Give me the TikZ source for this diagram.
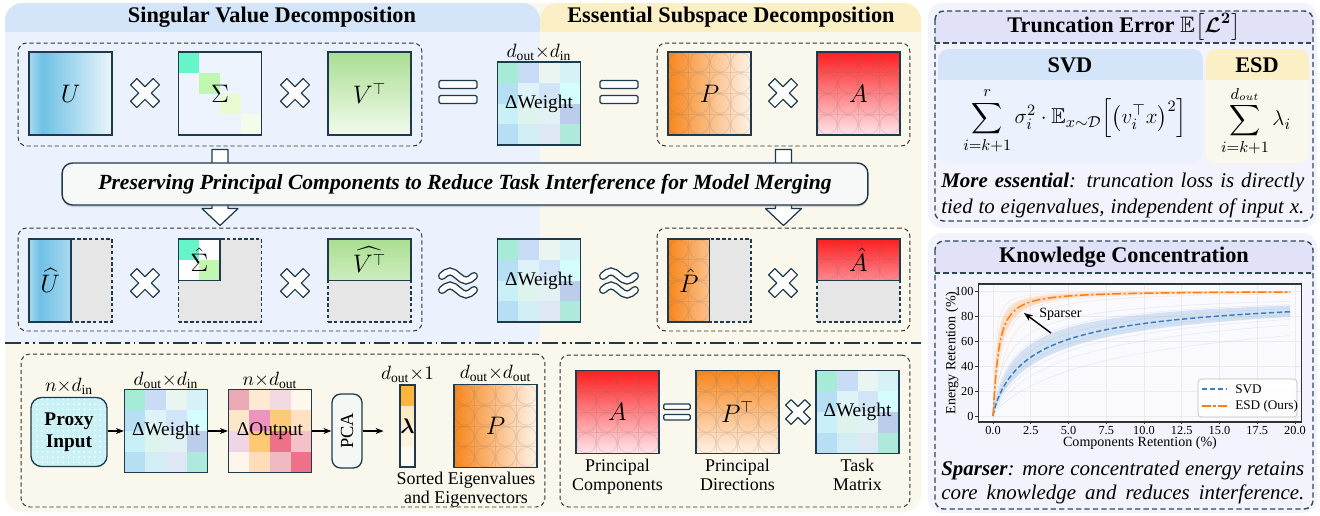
\documentclass[tikz,border=0pt]{standalone}
\usepackage{amsmath,amssymb,bm}
\usepackage{fontspec}
\setmainfont{Liberation Serif}
\usetikzlibrary{calc,positioning,patterns,arrows.meta,shadows}

\definecolor{frameC}{HTML}{1E3B4D}
\definecolor{dashC}{HTML}{2F4858}
\definecolor{blueHead}{HTML}{D4E4F9}
\definecolor{blueBody}{HTML}{ECF2FD}
\definecolor{creamHead}{HTML}{FBEFC6}
\definecolor{creamBody}{HTML}{FAF7EC}
\definecolor{lavPanel}{HTML}{F3F3FD}
\definecolor{lavHead}{HTML}{E1E1F8}
\definecolor{ghostC}{HTML}{E6E6E6}
\definecolor{uL}{HTML}{A9D9EF}
\definecolor{uM}{HTML}{6FC1E5}
\definecolor{uR}{HTML}{EAF5FB}
\definecolor{vTop}{HTML}{A9DE91}
\definecolor{vMid}{HTML}{CDEDBE}
\definecolor{vBot}{HTML}{F3FAEE}
\definecolor{pDark}{HTML}{F7861C}
\definecolor{pMid}{HTML}{FDC28E}
\definecolor{pLight}{HTML}{FFF3E8}
\definecolor{aDark}{HTML}{FF1E1E}
\definecolor{aMid}{HTML}{FF8A92}
\definecolor{aLight}{HTML}{FFE6EC}
\definecolor{proxyC}{HTML}{C9F1F6}
\definecolor{pcaC}{HTML}{F4F8F5}
\definecolor{bannerC}{HTML}{F6F9F7}
\definecolor{svdLine}{HTML}{3A7EC2}
\definecolor{esdLine}{HTML}{FF7F0E}

\pgfdeclarehorizontalshading{uShade}{100bp}{color(0bp)=(uL); color(25bp)=(uL); color(33bp)=(uM); color(75bp)=(uR); color(100bp)=(uR)}
\pgfdeclarehorizontalshading{uHalf}{100bp}{color(0bp)=(uL); color(25bp)=(uL); color(38bp)=(uM); color(75bp)=(uL); color(100bp)=(uL)}

\begin{document}
\begin{tikzpicture}[x=0.02cm, y=-0.02cm,
	mat/.style={draw=frameC, line width=.75pt, minimum size=1.66cm, inner sep=0pt, font=\fontsize{13.5}{15}\selectfont},
	ghost/.style={mat, fill=ghostC, dash pattern=on 2pt off 1.3pt},
	weight/.style={mat, cells={4}{\dwcells}, font=\fontsize{11}{13}\selectfont},
	cells/.style 2 args={path picture={
		\foreach \c [count=\k from 0] in #2 {
			\pgfmathtruncatemacro\gr{\k/#1}
			\pgfmathtruncatemacro\gc{\k-#1*\gr}
			\definecolor{cellC}{HTML}{\c}
			\fill[cellC] ($(path picture bounding box.north west)+(\gc*\cellsz,\gr*\cellsz)$) rectangle ++(\cellsz,\cellsz);
		}}},
	bubbles/.style={path picture={
		\foreach \i in {0,...,3}
			\foreach \j in {0,...,3}
				\draw[black!60, draw opacity=.18, line width=.45pt] ($(path picture bounding box.north west)+({(\i+.5)*\cellsz},{(\j+.5)*\cellsz})$) circle [radius=9.6];
		\foreach \i in {1,2,3} {
			\draw[black!60, draw opacity=.14, line width=.45pt] ($(path picture bounding box.north west)+(\i*\cellsz,0)$) -- ++(0,83);
			\draw[black!60, draw opacity=.14, line width=.45pt] ($(path picture bounding box.north west)+(0,\i*\cellsz)$) -- ++(83,0);
		}}},
	dashbox/.style={draw=black!80, dash pattern=on 2.4pt off 1.6pt, line width=.55pt, rounded corners=5pt, inner sep=0pt},
	paneldash/.style={draw=dashC, dash pattern=on 3pt off 1.8pt, line width=.8pt},
	opline/.style={draw=frameC, fill=white, line width=.7pt},
	title/.style={font=\fontsize{12.7}{15}\selectfont\bfseries, inner sep=0pt},
	lbl/.style={font=\fontsize{11}{13}\selectfont, inner sep=0pt},
	undercap/.style={font=\fontsize{10.2}{11}\selectfont, align=center, inner sep=0pt},
	note/.style={font=\fontsize{11.9}{13}\selectfont\itshape, inner sep=0pt, anchor=west},
	ticklbl/.style={font=\fontsize{7}{8}\selectfont, inner sep=1pt},
	arr/.style={-{Stealth[length=4.5pt,width=3.4pt]}, line width=.6pt},
	xsmp/.style={samples at={0.02,0.1,0.2,...,1,1.25,1.5,...,4,4.5,5,...,19.5,19.7}},
	xsmpr/.style={samples at={19.7,19.5,19,...,4,3.75,3.5,...,1,0.9,0.8,...,0.1,0.02}},
	crossop/.pic={\path[opline, rotate=45, line join=round] (4.5,4.5) -- (4.5,16) -- (-4.5,16) -- (-4.5,4.5) -- (-16,4.5) -- (-16,-4.5) -- (-4.5,-4.5) -- (-4.5,-16) -- (4.5,-16) -- (4.5,-4.5) -- (16,-4.5) -- (16,4.5) -- cycle;},
	eqop/.pic={\path[opline, rounded corners=.8pt] (-19,-11.5) rectangle (19,-3.5) (-19,3.5) rectangle (19,11.5);},
	approxop/.pic={\foreach \yy in {-7,7} {
			\draw[frameC, line width=4.6pt, line cap=round] (-16,\yy) sin (-8,\yy-4.5) cos (0,\yy) sin (8,\yy+4.5) cos (16,\yy);
			\draw[white, line width=3pt, line cap=round] (-16,\yy) sin (-8,\yy-4.5) cos (0,\yy) sin (8,\yy+4.5) cos (16,\yy);
		}}
	]
	%
	\def\cellsz{20.75}
	\def\dwcells{A6EBD6,C8DDF5,E8F5F1,D7F2F7,B6DFF4,DDF3F7,D2E4F7,D3FDFF,C9F0F6,DEF3EE,E2F2F4,BBCDEA,B6DFF3,D2EEF4,DEE8F5,AFE9DC}
	\def\outcells{EBA8B5,FEE9D2,F1D9E2,FEF7EC,FEE6CA,EE92BE,FFC97A,FFE1C2,EFD5E5,FFC872,EE7189,F5C1C9,FEF5EB,FEDDB9,F1B9C1,EE7189}
	\def\sigcells{66F5C9,EEF4FD,EEF4FD,EEF4FD,EEF4FD,C2F7B2,EEF4FD,EEF4FD,EEF4FD,EEF4FD,E9FBD2,EEF4FD,EEF4FD,EEF4FD,EEF4FD,F3FBEA}
	\def\sighcells{66F5C9,FFFFFF,FFFFFF,C2F7B2}
	%
	\useasboundingbox (0,0) rectangle (1320,515);
	\fill[white] (0,0) rectangle (1320,515);
	% backgrounds of the left part
	\fill[creamBody, rounded corners=10] (5,3) rectangle (921,512);
	\fill[blueBody, rounded corners=10] (5,3) rectangle (540,370);
	\fill[creamBody] (5,343) rectangle (921,375);
	\fill[blueHead, rounded corners=10] (5,3) rectangle (540,45);
	\fill[blueBody] (5,32) rectangle (540,50);
	\fill[creamHead, rounded corners=10] (540,3) rectangle (921,45);
	\fill[creamBody] (540,32) rectangle (921,50);
	\node[title] (svdTitle) at (272,17) {Singular Value Decomposition};
	\node[title] (esdTitle) at (731,17) {Essential Subspace Decomposition};
	%
	% groups
	\node[dashbox, minimum width=8.08cm, minimum height=2.06cm] (svdTop) at (220,94.5) {};
	\node[dashbox, minimum width=5.06cm, minimum height=2.06cm] (esdTop) at (783.5,94.5) {};
	\node[dashbox, minimum width=8.08cm, minimum height=2.06cm] (svdLow) at (220,279.5) {};
	\node[dashbox, minimum width=5.06cm, minimum height=2.06cm] (esdLow) at (783.5,279.5) {};
	\node[dashbox, minimum width=10.48cm, minimum height=3.06cm] (procBox) at (283,430.5) {};
	\node[dashbox, minimum width=7cm, minimum height=3.04cm] (pcBox) at (735,431) {};
	%
	% full decompositions
	\node[mat, shading=uShade] (U) at (70.5,93.5) {$U$};
	\node[mat, cells={4}{\sigcells}] (S) at (220,93.5) {$\Sigma$};
	\node[mat, top color=vTop, bottom color=vBot] (Vt) at (369.5,93.5) {$V^{\top}$};
	\node[weight] (dwTop) at (539,103.5) {ΔWeight};
	\node[lbl, above=0pt of dwTop] (dimTop) {$d_{\mathrm{out}}{\times}d_{\mathrm{in}}$};
	\node[mat, left color=pDark, right color=pLight, bubbles] (P) at (709.5,93.5) {$P$};
	\node[mat, top color=aDark, bottom color=aLight, bubbles] (A) at (858.5,93.5) {$A$};
	%
	% block arrows through the banner
	\foreach \t/\b in {svdTop/svdLow,esdTop/esdLow}
		\draw[opline, line join=round] ($(\t.south)+(-8,3)$) -- ($(\b.north)+(-8,-19)$) -- ($(\b.north)+(-18,-19)$) -- ($(\b.north)+(0,-2)$) -- ($(\b.north)+(18,-19)$) -- ($(\b.north)+(8,-19)$) -- ($(\t.south)+(8,3)$) -- cycle;
	\node[draw=frameC, fill=bannerC, line width=.8pt, rounded corners=6pt, minimum width=16.12cm, minimum height=.84cm,
		drop shadow={shadow xshift=0pt, shadow yshift=-1.2pt, opacity=.3}] (banner) at (465,184)
		{\fontsize{12.3}{14}\selectfont\bfseries\itshape Preserving Principal Components to Reduce Task Interference for Model Merging};
	%
	% truncated decompositions
	\node[ghost] (Uh) at (70.5,280.5) {};
	\node[mat, shading=uHalf, minimum width=.84cm, anchor=west] (UhKeep) at (Uh.west) {$\widehat{U}$};
	\node[ghost] (Sh) at (220,280.5) {};
	\node[mat, minimum size=.83cm, anchor=north west, cells={2}{\sighcells}] (ShKeep) at (Sh.north west) {$\hat{\Sigma}$};
	\node[ghost] (Vh) at (369.5,280.5) {};
	\node[mat, minimum height=.83cm, anchor=north, top color=vTop, bottom color=vMid] (VhKeep) at (Vh.north) {$\widehat{V^{\top}}$};
	\node[weight] (dwMid) at (539,280.5) {ΔWeight};
	\node[ghost] (Ph) at (709.5,280.5) {};
	\node[mat, minimum width=.83cm, anchor=west, left color=pDark, right color=pMid, bubbles] (PhKeep) at (Ph.west) {$\hat{P}$};
	\node[ghost] (Ah) at (858.5,280.5) {};
	\node[mat, minimum height=.83cm, anchor=north, top color=aDark, bottom color=aMid, bubbles] (AhKeep) at (Ah.north) {$\hat{A}$};
	%
	% operators
	\foreach \ox/\oy in {145/93,295/93,783/93,145/283,295/283,783/283}
		\pic at (\ox,\oy) {crossop};
	\foreach \ox in {458,619}
		\pic at (\ox,92) {eqop};
	\foreach \ox in {458,619}
		\pic at (\ox,283) {approxop};
	%
	\draw[frameC, line width=1.2pt, dash pattern=on 9pt off 2.2pt on 2.5pt off 2.2pt on 1pt off 2.2pt] (5,343) -- (921,343);
	%
	% how P is obtained
	\node[draw=frameC, line width=.75pt, rounded corners=6pt, minimum width=1.52cm, minimum height=1.38cm, align=center,
		font=\fontsize{11}{12.5}\selectfont\bfseries, preaction={fill=proxyC}, pattern=dots, pattern color=white] (proxy) at (69,432) {Proxy\\Input};
	\node[lbl, above=1pt of proxy] (dimProxy) {$n{\times}d_{\mathrm{in}}$};
	\node[weight] (dwB) at (166,431) {ΔWeight};
	\node[lbl, above=0pt of dwB] (dimB) {$d_{\mathrm{out}}{\times}d_{\mathrm{in}}$};
	\node[mat, cells={4}{\outcells}, font=\fontsize{11}{13}\selectfont] (dOut) at (270,431) {ΔOutput};
	\node[lbl, above=0pt of dOut] (dimOut) {$n{\times}d_{\mathrm{out}}$};
	\node[draw=frameC, fill=pcaC, line width=.75pt, rounded corners=5pt, minimum width=.6cm, minimum height=1.48cm, inner sep=0pt,
		font=\fontsize{10.5}{12}\selectfont] (pca) at (347,431) {\rotatebox{90}{PCA}};
	\node[mat, minimum width=.3cm, minimum height=1.64cm, font=\fontsize{12}{14}\selectfont, path picture={
		\foreach \c [count=\k from 0] in {FDB53A,FFEAC6,FFF2DE,FFFAF1} {
			\definecolor{cellC}{HTML}{\c}
			\fill[cellC] ($(path picture bounding box.north west)+(0,\k*20.5)$) rectangle ++(15,20.5);
		}}] (lam) at (407.5,426) {$\bm{\lambda}$};
	\node[lbl, above=1pt of lam] (dimLam) {$d_{\mathrm{out}}{\times}1$};
	\node[mat, left color=pDark, right color=pLight, bubbles] (Pb) at (495.5,426) {$P$};
	\node[lbl, above=1pt of Pb] (dimPb) {$d_{\mathrm{out}}{\times}d_{\mathrm{out}}$};
	\node[undercap] (sorted) at (466,489.5) {Sorted Eigenvalues\\and Eigenvectors};
	\draw[arr] (dwB.west -| proxy.east) -- (dwB.west);
	\draw[arr] (dwB.east) -- (dOut.west);
	\draw[arr] (dOut.east) -- (pca.west);
	\draw[arr, shorten >=9pt] (pca.east) -- (pca.east -| lam.west);
	%
	% principal components
	\node[mat, top color=aDark, bottom color=aLight, bubbles] (Ab) at (617.5,412) {$A$};
	\node[mat, top color=pDark, bottom color=pLight, bubbles] (Pt) at (737.5,412) {$P^{\top}$};
	\node[weight] (dwTask) at (857.5,412) {ΔWeight};
	\pic[scale=.7] at (677,412) {eqop};
	\pic[scale=.85] at (798,412) {crossop};
	\node[undercap, below=2.5pt of Ab] (capA) {Principal\\Components};
	\node[undercap, below=2.5pt of Pt] (capP) {Principal\\Directions};
	\node[undercap, below=2.5pt of dwTask] (capW) {Task\\Matrix};
	%
	% truncation error panel
	\fill[lavPanel, rounded corners=8] (928,3) rectangle (1317,228);
	\fill[lavHead, rounded corners=5] (935,11) rectangle (1313,55);
	\fill[lavPanel] (935,43) rectangle (1313,60);
	\fill[blueBody, rounded corners=6] (938,49) rectangle (1203,163);
	\fill[blueHead, rounded corners=6] (938,49) rectangle (1203,92);
	\fill[blueBody] (938,80) rectangle (1203,95);
	\fill[creamBody, rounded corners=6] (1206,49) rectangle (1309,163);
	\fill[creamHead, rounded corners=6] (1206,49) rectangle (1309,92);
	\fill[creamBody] (1206,80) rectangle (1309,95);
	\draw[paneldash, rounded corners=5] (935,11) rectangle (1313,221);
	\draw[paneldash] (935,43) -- (1313,43);
	\node[title] (truncTitle) at (1124,27) {Truncation Error $\mathbb{E}\bigl[\bm{\mathcal{L}}^{\bm{2}}\bigr]$};
	\node[title] (svdHead) at (1070,65) {SVD};
	\node[title] (esdHead) at (1257,65) {ESD};
	\node[font=\fontsize{12.3}{14}\selectfont] (svdErr) at (1075,121)
		{$\displaystyle\sum_{i=k+1}^{r}\sigma_i^2\cdot\mathbb{E}_{x\sim\mathcal{D}}\Big[\big(v_i^{\top}x\big)^2\Big]$};
	\node[font=\fontsize{12.3}{14}\selectfont] (esdErr) at (1256,121) {$\displaystyle\sum_{i=k+1}^{d_{out}}\lambda_i$};
	\node[note] (essA) at (941,182) {\makebox[7.26cm][s]{\textbf{More essential}: truncation loss is directly}};
	\node[note] (essB) at (941,208) {\makebox[7.26cm][s]{tied to eigenvalues, independent of input x.}};
	%
	% knowledge concentration panel
	\fill[lavPanel, rounded corners=8] (928,233) rectangle (1317,513);
	\fill[lavHead, rounded corners=5] (935,241) rectangle (1313,285);
	\fill[lavPanel] (935,273) rectangle (1313,290);
	\draw[paneldash, rounded corners=5] (935,241) rectangle (1313,509);
	\draw[paneldash] (935,273) -- (1313,273);
	\node[title] (knowTitle) at (1124,257) {Knowledge Concentration};
	\begin{scope}[shift={(993,416)}, xscale=15.1, yscale=-1.25]
		\fill[white, fill opacity=.5] (-0.99,-4.8) rectangle (20.46,105.6);
		\foreach \gx in {0,2.5,...,20}
			\draw[black!8, line width=.3pt] (\gx,-4.8) -- (\gx,105.6);
		\foreach \gy in {0,20,...,100}
			\draw[black!8, line width=.3pt] (-0.99,\gy) -- (20.46,\gy);
		% single tasks
		\foreach \cc in {1.1,1.5,2.0,2.8,3.6,4.6,6.8}
			\draw[svdLine, draw opacity=.12, line width=.3pt] (0,0) -- plot[xsmp] (\x,{100*\x^0.841/(\x^0.841+\cc)});
		\foreach \cc in {0.1,0.16,0.24,0.34,0.5,0.8}
			\draw[esdLine, draw opacity=.14, line width=.3pt] (0,0) -- plot[xsmp] (\x,{100*\x^1.19/(\x^1.19+\cc)});
		\fill[svdLine!70, fill opacity=.28] (0,0) -- plot[xsmp] (\x,{100*\x^0.841/(\x^0.841+1.6)}) -- plot[xsmpr] (\x,{100*\x^0.841/(\x^0.841+3.2)}) -- cycle;
		\fill[esdLine!70, fill opacity=.3] (0,0) -- plot[xsmp] (\x,{100*\x^1.19/(\x^1.19+0.17)}) -- plot[xsmpr] (\x,{100*\x^1.19/(\x^1.19+0.42)}) -- cycle;
		\draw[svdLine, line width=.85pt, dash pattern=on 3pt off 1.5pt] (0,0) -- plot[xsmp] (\x,{100*\x^0.841/(\x^0.841+2.436)});
		\draw[esdLine, line width=.85pt, dash pattern=on 5pt off 1.5pt on 1.2pt off 1.5pt] (0,0) -- plot[xsmp] (\x,{100*\x^1.19/(\x^1.19+0.282)});
		\draw[black!80, line width=.6pt] (-0.99,-4.8) rectangle (20.46,105.6);
		\foreach \gx/\gl [count=\n] in {0/0.0,2.5/2.5,5/5.0,7.5/7.5,10/10.0,12.5/12.5,15/15.0,17.5/17.5,20/20.0} {
			\draw[black!80, line width=.4pt] (\gx,-4.8) -- (\gx,-6.6);
			\node[ticklbl, anchor=north] (xt\n) at (\gx,-6.4) {\gl};
		}
		\foreach \gy [count=\n] in {0,20,...,100} {
			\draw[black!80, line width=.4pt] (-0.99,\gy) -- (-1.17,\gy);
			\node[ticklbl, anchor=east] (yt\n) at (-1.15,\gy) {\gy};
		}
	\end{scope}
	\node[font=\fontsize{8}{9}\selectfont, inner sep=0pt] (xlab) at (1140,443) {Components Retention (\%)};
	\node[font=\fontsize{8}{9}\selectfont, inner sep=0pt, rotate=90] (ylab) at (952,353) {Energy Retention (\%)};
	\node[draw=black!25, fill=white, fill opacity=.85, rounded corners=2pt, minimum width=1.98cm, minimum height=.76cm] (legend) at (1247.5,398) {};
	\node[font=\fontsize{7.5}{9}\selectfont, anchor=west, inner sep=0pt] (legSvd) at (1235,389) {SVD};
	\node[font=\fontsize{7.5}{9}\selectfont, anchor=west, inner sep=0pt] (legEsd) at (1235,406) {ESD (Ours)};
	\draw[svdLine, line width=.85pt, dash pattern=on 3pt off 1.5pt] ($(legSvd.west)+(-33,0)$) -- ($(legSvd.west)+(-8,0)$);
	\draw[esdLine, line width=.85pt, dash pattern=on 5pt off 1.5pt on 1.2pt off 1.5pt] ($(legEsd.west)+(-33,0)$) -- ($(legEsd.west)+(-8,0)$);
	\node[font=\fontsize{8}{9}\selectfont, anchor=west, inner sep=0pt] (sparser) at (1039,314) {Sparser};
	\coordinate (spTail) at (1051,333);
	\coordinate (spHead) at (1024,313);
	\draw[-{Stealth[length=5pt,width=3.8pt]}, line width=.8pt] (spTail) -- (spHead);
	\node[note] (knowA) at (941,470) {\makebox[7.26cm][s]{\textbf{Sparser}: more concentrated energy retains}};
	\node[note] (knowB) at (941,494) {\makebox[7.26cm][s]{core knowledge and reduces interference.}};
\end{tikzpicture}
\end{document}
